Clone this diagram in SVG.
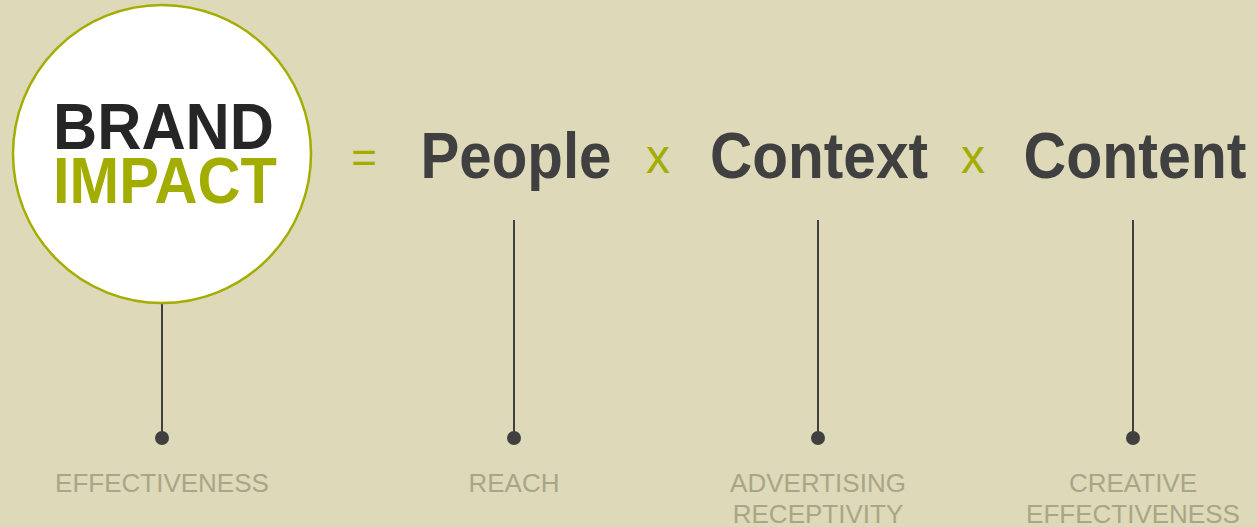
<svg xmlns="http://www.w3.org/2000/svg" width="1257" height="527" viewBox="0 0 1257 527">
  <style>
    .title { font-family: "Liberation Sans", Arial, sans-serif; font-weight: bold; }
    .term { font-family: "Liberation Sans", Arial, sans-serif; font-weight: bold; font-size: 64px; fill: #404040; text-anchor: middle; }
    .op { font-family: "Liberation Sans", Arial, sans-serif; fill: #a3ad00; text-anchor: middle; }
    .label { font-family: "Liberation Sans", Arial, sans-serif; font-size: 26px; fill: #a9a686; text-anchor: middle; }
    .stem { stroke: #404040; stroke-width: 2; fill: none; }
    .dot { fill: #404040; }
  </style>
  <rect width="1257" height="527" fill="#ddd9b9"/>

  <!-- stems with end dots -->
  <g id="connectors">
    <line class="stem" x1="162" y1="304" x2="162" y2="438"/>
    <line class="stem" x1="514" y1="220" x2="514" y2="438"/>
    <line class="stem" x1="818" y1="220" x2="818" y2="438"/>
    <line class="stem" x1="1133" y1="220" x2="1133" y2="438"/>
    <circle class="dot" cx="162" cy="438" r="7"/>
    <circle class="dot" cx="514" cy="438" r="7"/>
    <circle class="dot" cx="818" cy="438" r="7"/>
    <circle class="dot" cx="1133" cy="438" r="7"/>
  </g>

  <g id="brand-impact">
    <circle cx="162" cy="154" r="149" fill="#ffffff" stroke="#a3ad00" stroke-width="2.5"/>
    <text class="title" x="53" y="149" font-size="64" fill="#262626" textLength="221" lengthAdjust="spacingAndGlyphs">BRAND</text>
    <text class="title" x="53" y="203" font-size="64" fill="#a3ad00" textLength="224" lengthAdjust="spacingAndGlyphs">IMPACT</text>
    <text class="label" x="162" y="492">EFFECTIVENESS</text>
  </g>

  <g id="equals">
    <text class="op" x="364" y="173" font-size="44">=</text>
  </g>

  <g id="people">
    <text class="term" x="516" y="178" textLength="191" lengthAdjust="spacingAndGlyphs">People</text>
    <text class="label" x="514" y="492">REACH</text>
  </g>

  <g id="times-1">
    <text class="op" x="658" y="173" font-size="48">x</text>
  </g>

  <g id="context">
    <text class="term" x="819" y="178" textLength="218" lengthAdjust="spacingAndGlyphs">Context</text>
    <text class="label" x="818" y="492">ADVERTISING</text>
    <text class="label" x="818" y="523">RECEPTIVITY</text>
  </g>

  <g id="times-2">
    <text class="op" x="973" y="173" font-size="48">x</text>
  </g>

  <g id="content">
    <text class="term" x="1135" y="178" textLength="223" lengthAdjust="spacingAndGlyphs">Content</text>
    <text class="label" x="1133" y="492">CREATIVE</text>
    <text class="label" x="1133" y="523">EFFECTIVENESS</text>
  </g>
</svg>
